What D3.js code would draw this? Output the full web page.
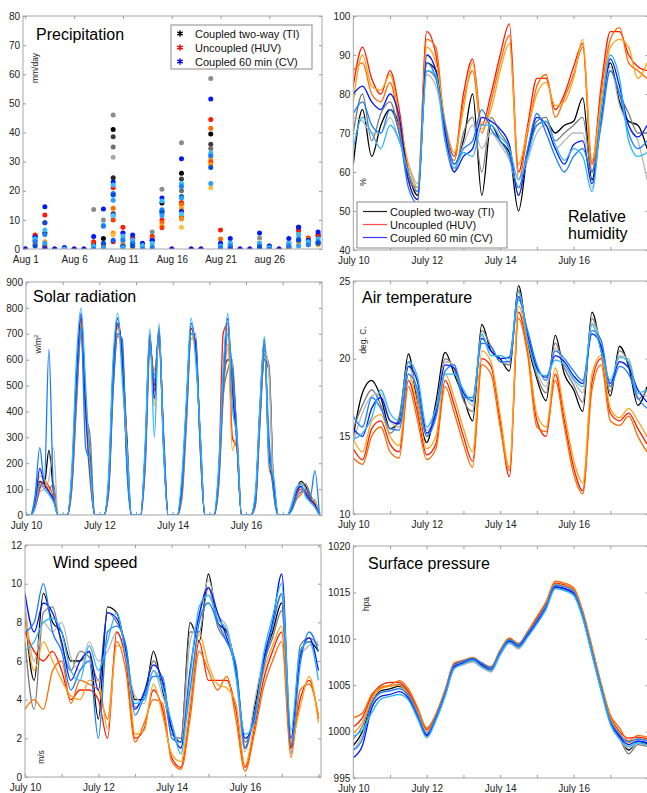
<!DOCTYPE html>
<html lang="en">
<head>
<meta charset="utf-8">
<title>Coupled vs uncoupled ensemble</title>
<script src="https://d3js.org/d3.v7.min.js"></script>
<style>
  body { margin: 0; background: #fff; }
  text { font-family: "Liberation Sans", Arial, sans-serif; }
  .tick text { fill: #222; font-size: 10px; }
  .tick line { stroke: #999; }
</style>
</head>
<body>
<script>
// ---------- data ----------
// precipitation: one list of ensemble member values per day (Aug 1..31)
var precipDays = [1,2,3,4,5,6,7,8,9,10,11,12,13,14,15,16,17,18,19,20,21,22,23,24,25,26,27,28,29,30,31];
var precipTI = [[0],[1.2,4.5,3],[9,5.5,1],[0],[0.3],[0],[0],[13.6,1.5],[10,3.6,1],
  [46,41,38.5,35,31.5,24.5,19,11],[3.5,1],[4,2],[1.8,1],[5.8,3],[20.5,15.8,13],[0],
  [36.5,26,24,20],[0],[0],[58.5,39.5,36,34.5,32],[1,0.5],[2,0.5],[0],[0],[3.8,1.3],[1,0.5],[0],
  [1,0.5],[6,7.5,3],[3.5,2.5],[5,4.5,2]];
var precipHUV = [[0],[4.8,2,1.5],[11.7,9,2.5,0.5],[0],[0.2],[0],[0],[2.5,0.5],[1.5,0.5],
  [21,14,12.3,10,5.5,4.8,2.5],[7.5,5.5,2],[3.5,1,0.3],[1.5,0.5],[4.3,3.5,1],[10,9,8,7.3,12.5],[0],
  [16,15.3,14,11,10.3,7.5],[0],[0],[44.5,41.5,31,30,29,21],[6.5,3.4,2],[1,0.2],[0],[0],[2,0.5],[0.5],[0],
  [2,0.5],[6.5,5,2],[3.8,3.5,1.5],[5,2.5,1.5]];
var precipCV = [[0],[4,3.5,2.5,1],[14.5,6.5,5,9,2,0.3],[0],[0.5,0],[0],[0],[4.3,1,0],[13.7,8.2,7.8,2,0.5],
  [23,22,19,18.5,16.7,12,11.5,3],[5.5,4.5,3,1,0.5],[4.8,3,2,1],[2,1.2,0],[3,2,0.5],[17.5,16.5,13.5,12.5,11.5],[0],
  [31,22.5,21.5,18,17.5,13,12],[0],[0],[51.5,33,32,28,22.5],[2,1,0.5],[3.6,2,1,0],[0],[0],[5.5,2,1,0.5],[1,0.5,0],[0],
  [3.6,2,1],[7.5,5,3.5,3,1],[3,2.5,1.5],[5.8,3.5,2.5,2]];
var precipTicks = [1,6,11,16,21,26];
var precipTickLabels = ["Aug 1","Aug 6","Aug 11","Aug 16","Aug 21","aug 26"];

// time axis (days after July 10 00:00)
var t6 = [0,0.25,0.5,0.75,1,1.25,1.5,1.75,2,2.25,2.5,2.75,3,3.25,3.5,3.75,4,4.25,4.5,4.75,5,5.25,5.5,5.75,6,6.25,6.5,6.75,7,7.25,7.5,7.75,8];
var t3 = [0,0.125,0.25,0.375,0.5,0.625,0.75,0.875,1,1.125,1.25,1.375,1.5,1.625,1.75,1.875,
  2,2.125,2.25,2.375,2.5,2.625,2.75,2.875,3,3.125,3.25,3.375,3.5,3.625,3.75,3.875,
  4,4.125,4.25,4.375,4.5,4.625,4.75,4.875,5,5.125,5.25,5.375,5.5,5.625,5.75,5.875,
  6,6.125,6.25,6.375,6.5,6.625,6.75,6.875,7,7.125,7.25,7.375,7.5,7.625,7.75,7.875,8];
var dayTicks = [0,1,2,3,4,5,6,7,8];
var dayLabels = ["July 10","","July 12","","July 14","","July 16","",""];

// relative humidity (%)
var rhTI = [
  [62,76,64,72,76,72,60,54,88,86,70,62,68,80,54,72,68,65,50,65,72,73,70,72,73,79,58,75,88,78,73,72,66],
  [70,80,68,75,78,70,58,56,86,84,68,60,70,74,60,74,70,66,54,66,73,74,68,70,72,74,60,76,86,80,75,70,70],
  [74,73,70,70,74,68,62,57,85,82,71,61,67,72,66,70,67,63,56,63,70,72,66,68,70,70,56,73,87,77,72,68,58]];
var rhHUV = [
  [82,92,84,80,86,76,60,55,96,90,72,64,80,89,72,80,90,98,60,72,84,84,76,80,87,93,62,82,96,96,90,87,86],
  [86,88,80,78,83,72,58,53,94,92,70,63,78,86,70,78,88,95,58,70,82,85,74,79,85,92,60,80,94,97,88,86,84],
  [78,90,82,81,85,74,62,56,92,88,73,65,76,88,71,76,86,93,62,71,80,83,77,78,84,94,63,78,92,94,92,84,88]];
var rhCV = [
  [80,82,78,76,80,74,58,53,90,86,70,60,64,66,74,73,71,67,54,65,74,72,66,62,67,68,57,74,89,82,72,69,72],
  [75,78,72,70,76,70,56,52,88,84,72,62,66,68,76,71,68,64,56,66,75,70,64,60,64,66,60,72,86,80,70,66,68],
  [66,74,70,66,72,68,60,55,86,85,68,61,65,64,72,72,69,66,58,64,72,73,67,63,66,64,55,75,90,84,68,64,65]];

// solar radiation (W/m2), 3-hourly
var solTI = [
  [0,0,40,130,120,250,90,0, 0,0,130,480,740,440,220,0, 0,0,110,520,740,610,300,0, 0,0,230,670,500,710,290,0, 0,0,110,410,720,650,290,0, 0,0,140,500,600,560,300,0, 0,0,50,380,600,560,100,0, 0,0,40,100,130,110,70,50, 0],
  [0,0,60,110,130,100,120,0, 0,0,110,440,700,400,300,0, 0,0,90,480,700,640,240,0, 0,0,210,640,540,690,310,0, 0,0,90,380,700,670,270,0, 0,0,120,460,560,600,280,0, 0,0,40,360,620,580,120,0, 0,0,30,80,120,120,80,40, 0],
  [0,0,30,90,100,140,260,0, 0,0,150,500,760,460,180,0, 0,0,130,540,720,580,260,0, 0,0,240,690,480,700,270,0, 0,0,130,440,730,630,310,0, 0,0,160,520,640,520,320,0, 0,0,60,400,650,540,90,0, 0,0,50,110,120,100,60,60, 0]];
var solHUV = [
  [0,0,30,100,130,110,70,0, 0,0,140,500,760,450,150,0, 0,0,100,540,730,620,200,0, 0,0,220,680,480,700,260,0, 0,0,100,400,720,660,280,0, 0,0,140,700,740,300,260,0, 0,0,50,380,660,230,110,0, 0,0,30,80,100,90,50,40, 0],
  [0,0,50,120,110,90,60,0, 0,0,100,420,700,380,130,0, 0,0,80,500,690,650,230,0, 0,0,180,620,560,660,300,0, 0,0,60,350,680,680,250,0, 0,0,100,450,660,520,280,0, 0,0,30,340,620,260,90,0, 0,0,20,60,80,100,60,30, 0],
  [0,0,60,150,140,100,80,0, 0,0,160,560,740,480,170,0, 0,0,110,580,720,580,240,0, 0,0,240,690,420,730,270,0, 0,0,90,420,700,620,310,0, 0,0,130,500,720,250,300,0, 0,0,60,390,670,180,130,0, 0,0,30,90,110,80,60,50, 0]];
var solCV = [
  [0,0,40,180,120,90,60,0, 0,0,150,520,780,420,160,0, 0,0,120,560,760,600,220,0, 0,0,250,700,450,720,280,0, 0,0,120,420,740,640,300,0, 0,0,150,520,760,480,280,0, 0,0,60,400,680,220,120,0, 0,0,30,90,110,80,60,40, 0],
  [0,0,80,260,130,640,90,0, 0,0,120,460,720,260,200,0, 0,0,90,480,700,680,180,0, 0,0,200,650,520,680,320,0, 0,0,80,380,700,700,260,0, 0,0,120,480,700,560,320,0, 0,0,40,360,640,300,90,0, 0,0,20,70,90,100,70,170, 0],
  [0,0,30,120,100,80,50,0, 0,0,180,600,800,500,180,0, 0,0,150,600,780,520,260,0, 0,0,280,720,300,740,250,0, 0,0,150,450,760,600,320,0, 0,0,180,560,780,420,300,0, 0,0,80,420,690,200,150,0, 0,0,40,100,120,70,50,30, 0]];

// air temperature (deg C)
var tmpTI = [
  [15.0,17.8,18.6,17.5,15.5,16.0,20.3,17.0,14.6,17.2,20.4,19.0,17.5,16.0,22.2,20.5,20.0,19.2,24.7,21.0,18.7,17.3,21.5,19.0,18.0,16.6,23.0,20.5,17.6,20.8,19.5,17.0,18.2],
  [15.5,17.0,18.0,17.0,15.2,16.3,19.8,17.5,15.0,16.8,20.0,19.3,17.3,16.6,21.8,20.8,19.8,19.6,24.4,21.3,18.9,17.8,21.0,19.4,18.3,17.2,22.6,20.8,17.9,20.5,19.7,17.4,18.0],
  [14.6,16.5,17.6,17.8,16.0,15.6,19.5,17.8,15.4,16.5,19.8,19.6,17.8,17.0,21.5,20.2,20.2,19.8,24.0,21.6,19.2,18.2,20.7,19.6,18.6,17.8,22.3,21.0,18.2,20.2,20.0,17.8,17.6]];
var tmpHUV = [
  [14.2,13.5,15.5,16.0,14.5,14.0,18.6,16.5,13.8,14.5,18.6,17.0,15.0,13.4,20.0,19.5,16.0,12.4,23.0,20.5,16.0,15.0,19.0,16.0,13.0,11.5,18.5,20.0,16.5,16.0,16.5,15.5,14.5],
  [13.6,13.2,15.0,15.6,14.0,13.6,18.2,16.0,13.5,14.2,18.2,16.5,14.5,13.0,19.6,19.0,15.6,12.8,22.6,20.2,15.6,15.3,18.6,15.6,12.6,11.3,18.0,19.6,16.0,15.7,16.3,15.0,14.0],
  [14.8,14.0,16.0,16.4,15.0,14.4,19.0,17.0,14.2,15.0,19.0,17.5,15.5,14.0,20.5,19.8,16.4,13.0,23.4,20.8,16.4,15.6,19.4,16.5,13.5,12.0,19.0,20.2,16.8,16.2,16.8,16.0,15.0]];
var tmpCV = [
  [15.5,15.0,16.8,17.5,16.0,15.8,19.5,18.5,15.2,16.5,19.6,19.4,17.8,17.3,21.3,20.5,20.0,20.1,24.0,21.5,19.4,18.8,20.2,19.8,18.9,18.4,21.6,20.8,18.4,19.8,19.4,18.0,17.2],
  [16.3,15.6,17.5,16.8,15.5,15.4,19.0,18.0,15.0,16.2,19.2,19.6,17.5,17.5,21.0,20.8,19.8,19.8,23.8,21.8,19.6,18.6,20.5,20.0,19.2,18.6,21.8,21.2,18.2,19.5,19.0,17.5,16.8],
  [14.8,15.2,16.2,18.0,16.5,16.0,19.8,18.8,15.6,16.8,19.0,19.0,18.0,17.2,21.6,20.2,20.2,20.0,24.3,21.2,19.2,18.9,19.9,19.6,18.7,18.2,22.2,20.5,18.6,20.1,19.8,17.8,18.0]];

// wind speed (m/s)
var windTI = [
  [8.5,5.0,9.5,8.0,7.5,6.0,6.0,6.5,3.0,8.8,8.5,6.5,4.0,4.0,6.5,4.5,2.5,1.8,8.0,7.0,10.5,8.0,7.5,5.5,1.5,3.5,6.0,7.5,9.0,1.5,6.5,7.0,6.5],
  [7.0,3.5,8.5,8.8,6.8,5.5,6.5,6.2,5.0,8.5,8.0,6.8,3.6,4.3,6.0,4.8,2.2,2.0,7.5,7.5,9.8,7.8,7.0,5.8,1.8,3.2,5.8,7.2,8.6,1.2,6.8,7.2,6.8],
  [9.0,6.0,8.0,7.5,8.0,6.2,5.5,7.0,6.0,6.5,7.5,6.2,4.2,3.8,5.5,4.2,2.8,1.5,7.0,8.2,10.2,8.4,7.8,5.2,1.3,3.8,6.2,7.8,9.4,1.8,6.2,6.8,7.0]];
var windHUV = [
  [7.5,6.5,6.0,6.5,5.5,4.0,4.5,4.5,4.0,2.0,7.5,6.0,2.0,2.5,4.5,3.5,1.0,0.5,3.5,7.0,5.0,5.0,5.0,3.5,0.5,2.5,5.0,6.5,7.5,1.5,4.0,5.0,3.0],
  [3.5,4.0,3.5,5.5,6.0,3.8,5.0,4.8,4.5,3.0,7.0,5.5,1.8,2.8,4.0,3.8,0.8,0.4,3.0,6.5,5.5,4.5,5.2,3.0,0.3,2.2,4.6,6.0,7.0,1.0,4.5,4.8,3.2],
  [8.5,5.5,7.0,6.0,5.0,4.2,4.0,5.0,5.0,2.5,6.8,6.5,2.2,2.4,4.8,3.2,1.2,0.8,3.8,7.4,5.8,4.8,4.6,3.8,0.6,2.8,5.4,6.8,7.8,1.8,3.6,5.2,2.8]];
var windCV = [
  [9.5,7.5,9.0,8.5,7.0,5.0,6.0,6.5,4.5,8.5,8.2,6.5,3.5,4.4,5.8,5.0,2.5,1.5,5.5,8.4,9.8,8.5,7.2,5.5,2.0,3.0,6.0,8.0,10.5,2.0,6.2,7.2,5.5],
  [7.5,8.0,10.0,7.5,6.5,4.5,5.5,6.0,2.0,7.5,7.8,6.8,3.2,4.2,5.2,5.2,2.0,1.8,4.5,8.0,9.0,8.0,7.0,5.8,1.5,3.2,5.6,7.8,9.5,1.6,5.8,7.5,6.5],
  [6.5,7.0,8.0,8.2,7.5,5.5,5.0,6.8,5.5,7.0,8.5,6.2,3.8,4.0,5.5,4.6,2.8,1.2,5.2,8.8,9.4,8.2,7.6,5.2,2.2,2.8,6.3,8.3,10.0,2.4,6.5,7.0,5.0]];

// surface pressure (hPa)
var presTI = [
  [998.5,1000.0,1003.0,1004.4,1004.6,1004.9,1004.0,1001.9,999.6,1001.4,1004.0,1007.0,1007.4,1007.7,1007.1,1006.6,1008.4,1009.7,1009.2,1010.4,1011.8,1013.4,1015.6,1015.4,1014.9,1012.4,1008.6,1004.7,1001.2,999.6,998.0,998.9,998.7],
  [999.2,1000.6,1003.4,1004.7,1004.9,1005.1,1004.2,1002.1,999.5,1001.3,1003.9,1006.9,1007.3,1007.6,1007.0,1006.5,1008.3,1009.6,1009.0,1010.3,1011.7,1013.3,1015.5,1015.3,1014.8,1012.3,1008.4,1004.5,1001.0,999.3,997.6,998.6,998.4],
  [998.0,999.6,1002.8,1004.2,1004.4,1004.7,1003.8,1001.7,999.3,1001.2,1003.8,1006.8,1007.2,1007.5,1006.9,1006.4,1008.2,1009.5,1008.9,1010.2,1011.6,1013.2,1015.4,1015.2,1014.7,1012.2,1008.3,1004.4,1000.9,999.2,998.2,998.8,998.5]];
var presHUV = [
  [1000.5,1001.5,1003.8,1005.0,1005.3,1005.3,1004.3,1002.4,1000.2,1001.8,1004.4,1007.3,1007.6,1007.9,1007.3,1006.9,1008.7,1010.0,1009.4,1010.7,1012.2,1013.8,1016.0,1015.8,1015.3,1012.8,1009.0,1005.0,1001.6,1000.0,999.3,999.4,999.2],
  [1001.5,1002.0,1004.0,1004.8,1005.0,1005.5,1004.6,1002.6,1000.4,1001.9,1004.5,1007.4,1007.7,1008.0,1007.4,1007.0,1008.8,1010.1,1009.5,1010.8,1012.4,1014.0,1016.2,1016.0,1015.5,1013.0,1009.2,1005.2,1001.8,1000.4,999.0,999.6,999.4],
  [999.8,1001.0,1003.5,1004.6,1004.9,1005.0,1004.0,1002.1,1000.0,1001.6,1004.2,1007.1,1007.5,1007.8,1007.2,1006.8,1008.6,1009.9,1009.3,1010.5,1012.0,1013.6,1015.9,1015.7,1015.2,1012.7,1008.9,1004.9,1001.4,999.8,998.8,999.2,999.1]];
var presCV = [
  [997.2,998.5,1002.5,1003.8,1004.0,1004.3,1003.6,1001.6,999.6,1001.4,1004.0,1007.0,1007.4,1007.8,1007.2,1006.7,1008.5,1009.8,1009.2,1010.4,1011.8,1013.4,1015.6,1015.4,1014.9,1012.4,1008.5,1004.6,1001.0,999.5,998.6,999.0,998.8],
  [998.0,999.2,1003.0,1004.2,1004.4,1004.6,1003.9,1001.9,999.8,1001.6,1004.2,1007.2,1007.6,1007.9,1007.4,1006.9,1008.6,1009.9,1009.4,1010.6,1012.0,1013.6,1015.8,1015.6,1015.1,1012.6,1008.7,1004.8,1001.2,999.7,998.9,999.2,999.0],
  [999.5,1000.2,1002.0,1003.5,1003.8,1004.0,1003.4,1001.4,999.4,1001.2,1003.8,1006.8,1007.3,1007.7,1007.0,1006.6,1008.3,1009.6,1009.1,1010.2,1011.6,1013.2,1015.4,1015.2,1014.7,1012.2,1008.3,1004.4,1000.8,999.2,998.4,998.8,998.6]];

var legendNames = ["Coupled two-way (TI)","Uncoupled (HUV)","Coupled 60 min (CV)"];

// ---------- colours ----------
var lineTI  = ["#000000","#7a7a7a","#b8b8b8"];
var lineHUV = ["#ff1a00","#ff6a00","#ffa31a"];
var lineCV  = ["#0018ff","#1a7dff","#29b6ff"];
var dotTI  = ["#8c8c8c","#000000","#3c3c3c","#6e6e6e","#a8a8a8","#262626","#5a5a5a","#b4b4b4"];
var dotHUV = ["#ff1a00","#ff6a00","#ffa31a","#ff3c00","#ff8c00","#ffc040","#e81010"];
var dotCV  = ["#0018ff","#33bbff","#1a7dff","#0050e0","#29a0ff","#2020d0","#40c8ff","#1060ff"];

// ---------- drawing ----------
var width = 647, height = 793;
var svg = d3.select("body").append("svg")
            .attr("width", width)
            .attr("height", height);

var clipId = 0;
function makePanel(p) {
    var x = d3.scaleLinear().domain(p.xd).range([p.x0, p.x1]);
    var y = d3.scaleLinear().domain(p.yd).range([p.y1, p.y0]);
    var g = svg.append("g");
    var id = "clip" + (clipId++);
    g.append("clipPath").attr("id", id).append("rect")
     .attr("x", p.x0).attr("y", p.y0).attr("width", p.x1 - p.x0).attr("height", p.y1 - p.y0);

    var xa = d3.axisBottom(x).tickValues(p.xt).tickSizeInner(-3).tickSizeOuter(0).tickPadding(7)
               .tickFormat(function(d, i) { return p.xl[i]; });
    g.append("g").attr("transform", "translate(0," + p.y1 + ")").call(xa)
     .call(function(s) { s.select(".domain").remove(); });
    g.append("g").attr("transform", "translate(0," + p.y0 + ")")
     .call(d3.axisTop(x).tickValues(p.xt).tickSizeInner(-3).tickSizeOuter(0).tickFormat(""))
     .call(function(s) { s.select(".domain").remove(); });
    g.append("g").attr("transform", "translate(" + p.x0 + ",0)")
     .call(d3.axisLeft(y).tickValues(p.yt).tickSizeInner(-3).tickSizeOuter(0).tickPadding(3)
             .tickFormat(d3.format("d")))
     .call(function(s) { s.select(".domain").remove(); });
    g.append("g").attr("transform", "translate(" + p.x1 + ",0)")
     .call(d3.axisRight(y).tickValues(p.yt).tickSizeInner(-3).tickSizeOuter(0).tickFormat(""))
     .call(function(s) { s.select(".domain").remove(); });

    var plot = g.append("g").attr("clip-path", "url(#" + id + ")");
    g.append("rect").attr("x", p.x0).attr("y", p.y0)
     .attr("width", p.x1 - p.x0).attr("height", p.y1 - p.y0)
     .attr("fill", "none").attr("stroke", "#a6a6a6").attr("stroke-width", 1);
    return { g: g, plot: plot, x: x, y: y };
}

function drawMembers(P, t, sets) {
    sets.forEach(function(s) {
        s[0].forEach(function(m, i) {
            var line = d3.line()
                         .x(function(d, j) { return P.x(t[j]); })
                         .y(function(d) { return P.y(d); })
                         .curve(d3.curveMonotoneX);
            P.plot.append("path").datum(m).attr("d", line)
                  .attr("fill", "none")
                  .attr("stroke", s[1][i % s[1].length])
                  .attr("stroke-width", 1.3)
                  .attr("stroke-linejoin", "round");
        });
    });
}

function title(txt, x, y) {
    svg.append("text").attr("x", x).attr("y", y).attr("font-size", 16).attr("fill", "#000").text(txt);
}
function unit(txt, x, y) {
    return svg.append("text").attr("transform", "translate(" + x + "," + y + ") rotate(-90)")
              .attr("font-size", 8.5).attr("fill", "#222").attr("text-anchor", "middle").text(txt);
}

// 1. precipitation
var P1 = makePanel({ x0: 23, x1: 322, y0: 16, y1: 249, xd: [0.76, 31.4], yd: [0, 80],
                     xt: precipTicks, xl: precipTickLabels, yt: d3.range(0, 81, 10) });
[[precipTI, dotTI], [precipHUV, dotHUV], [precipCV, dotCV]].forEach(function(s) {
    s[0].forEach(function(vals, di) {
        vals.forEach(function(v, k) {
            P1.plot.append("circle")
              .attr("cx", P1.x(precipDays[di]))
              .attr("cy", P1.y(v))
              .attr("r", 2.5)
              .attr("fill", s[1][k % s[1].length]);
        });
    });
});
title("Precipitation", 36, 40);
unit("mm/day", 38, 68);
var lg1 = svg.append("g");
lg1.append("rect").attr("x", 171).attr("y", 25).attr("width", 141).attr("height", 44)
   .attr("fill", "#fff").attr("stroke", "#8a8a8a");
var star = d3.symbol().type(d3.symbolAsterisk || d3.symbolCross).size(28);
["#000000", "#ff0000", "#0000ff"].forEach(function(c, i) {
    var yy = 33.5 + i * 14;
    lg1.append("path").attr("d", star()).attr("transform", "translate(180," + yy + ")")
       .attr("fill", "none").attr("stroke", c).attr("stroke-width", 1.3);
    lg1.append("text").attr("x", 195).attr("y", yy + 4).attr("font-size", 11).attr("fill", "#111")
       .text(legendNames[i]);
});

// 2. relative humidity
var P2 = makePanel({ x0: 353.3, x1: 648.5, y0: 16, y1: 250, xd: [0, 8.04], yd: [40, 100],
                     xt: dayTicks, xl: dayLabels, yt: d3.range(40, 101, 10) });
drawMembers(P2, t6, [[rhTI, lineTI], [rhHUV, lineHUV], [rhCV, lineCV]]);
unit("%", 366, 182);
var lg2 = svg.append("g");
lg2.append("rect").attr("x", 357).attr("y", 202).attr("width", 150).attr("height", 46)
   .attr("fill", "#fff").attr("stroke", "#8a8a8a");
["#222222", "#ff4a4a", "#3a3aff"].forEach(function(c, i) {
    var yy = [211.5, 224.5, 237.5][i];
    lg2.append("line").attr("x1", 363).attr("x2", 387).attr("y1", yy).attr("y2", yy)
       .attr("stroke", c).attr("stroke-width", 1.2);
    lg2.append("text").attr("x", 390).attr("y", yy + 4).attr("font-size", 11).attr("fill", "#111")
       .text(legendNames[i]);
});
title("Relative", 568, 222);
title("humidity", 568, 239);

// 3. solar radiation
var P3 = makePanel({ x0: 26, x1: 322, y0: 282, y1: 515, xd: [0, 8.07], yd: [0, 900],
                     xt: dayTicks, xl: dayLabels, yt: d3.range(0, 901, 100) });
drawMembers(P3, t3, [[solTI, lineTI], [solHUV, lineHUV], [solCV, lineCV]]);
title("Solar radiation", 33, 302);
var u3 = svg.append("text").attr("transform", "translate(41,344) rotate(-90)")
            .attr("font-size", 8.5).attr("fill", "#222").attr("text-anchor", "middle");
u3.append("tspan").text("w/m");
u3.append("tspan").attr("dy", -3).attr("font-size", 6).text("2");

// 4. air temperature
var P4 = makePanel({ x0: 353.3, x1: 648.5, y0: 281, y1: 514, xd: [0, 8.04], yd: [10, 25],
                     xt: dayTicks, xl: dayLabels, yt: [10, 15, 20, 25] });
drawMembers(P4, t6, [[tmpTI, lineTI], [tmpHUV, lineHUV], [tmpCV, lineCV]]);
title("Air temperature", 362, 303);
unit("deg. C.", 366, 340);

// 5. wind speed
var P5 = makePanel({ x0: 25, x1: 321, y0: 545, y1: 777, xd: [0, 8.07], yd: [0, 12],
                     xt: dayTicks, xl: dayLabels, yt: d3.range(0, 13, 2) });
drawMembers(P5, t6, [[windTI, lineTI], [windHUV, lineHUV], [windCV, lineCV]]);
title("Wind speed", 53, 568);
unit("m/s", 44, 757);

// 6. surface pressure
var P6 = makePanel({ x0: 353.3, x1: 648.5, y0: 546, y1: 778, xd: [0, 8.04], yd: [995, 1020],
                     xt: dayTicks, xl: dayLabels, yt: d3.range(995, 1021, 5) });
drawMembers(P6, t6, [[presTI, lineTI], [presHUV, lineHUV], [presCV, lineCV]]);
title("Surface pressure", 368, 569);
unit("hpa", 369, 604);
</script>
</body>
</html>
